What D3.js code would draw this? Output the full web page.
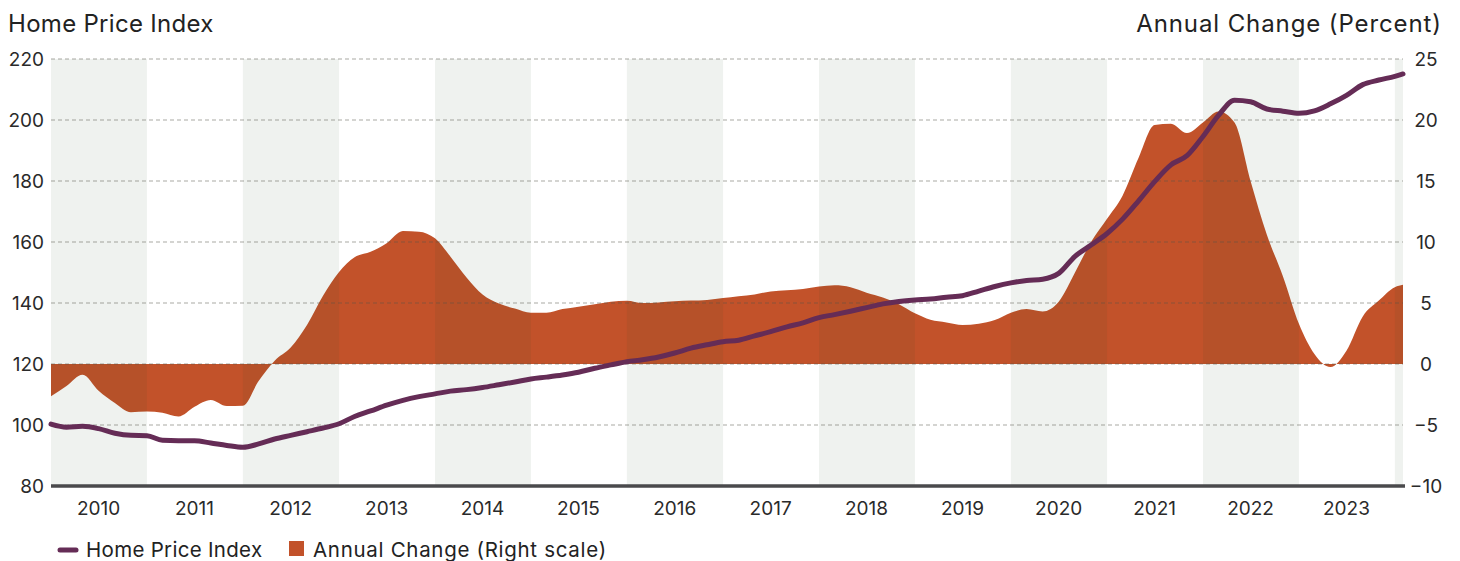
<!DOCTYPE html>
<html>
<head>
<meta charset="utf-8">
<script src="https://cdn.jsdelivr.net/npm/d3@7"></script>
<style>
  body { margin: 0; background: #fff; }
  svg text { font-family: Inter, "Noto Sans", sans-serif; fill: #222; }
</style>
</head>
<body>
<svg id="chart" width="1460" height="561"></svg>
<script>
// every other month, Jan 2010 .. Jan 2024, plus Feb 2024
const dates = [
  '2010-01', '2010-03', '2010-05', '2010-07', '2010-09', '2010-11',
  '2011-01', '2011-03', '2011-05', '2011-07', '2011-09', '2011-11',
  '2012-01', '2012-03', '2012-05', '2012-07', '2012-09', '2012-11',
  '2013-01', '2013-03', '2013-05', '2013-07', '2013-09', '2013-11',
  '2014-01', '2014-03', '2014-05', '2014-07', '2014-09', '2014-11',
  '2015-01', '2015-03', '2015-05', '2015-07', '2015-09', '2015-11',
  '2016-01', '2016-03', '2016-05', '2016-07', '2016-09', '2016-11',
  '2017-01', '2017-03', '2017-05', '2017-07', '2017-09', '2017-11',
  '2018-01', '2018-03', '2018-05', '2018-07', '2018-09', '2018-11',
  '2019-01', '2019-03', '2019-05', '2019-07', '2019-09', '2019-11',
  '2020-01', '2020-03', '2020-05', '2020-07', '2020-09', '2020-11',
  '2021-01', '2021-03', '2021-05', '2021-07', '2021-09', '2021-11',
  '2022-01', '2022-03', '2022-05', '2022-07', '2022-09', '2022-11',
  '2023-01', '2023-03', '2023-05', '2023-07', '2023-09', '2023-11',
  '2024-01', '2024-02'
];

const homePriceIndex = [
  100.3, 99.3, 99.55, 98.8, 97.3, 96.6,
  96.5, 95.0, 94.85, 94.85, 94.1, 93.3,
  92.7, 93.8, 95.4, 96.6, 97.8, 99.0,
  100.4, 102.8, 104.6, 106.5, 108.1, 109.3,
  110.2, 111.1, 111.6, 112.3, 113.2, 114.1,
  115.1, 115.7, 116.4, 117.3, 118.6, 119.7,
  120.75, 121.4, 122.3, 123.6, 125.2, 126.3,
  127.3, 127.8, 129.2, 130.6, 132.2, 133.5,
  135.2, 136.2, 137.3, 138.5, 139.7, 140.5,
  141.0, 141.3, 141.9, 142.4, 143.9, 145.4,
  146.6, 147.4, 147.8, 149.7, 155.3, 159.0,
  162.8, 167.5, 173.5, 179.8, 185.3, 188.3,
  194.6, 201.5, 206.5, 206.0, 203.6, 202.9,
  202.2, 203.0, 205.3, 208.1, 211.6, 213.1,
  214.3, 215.1
];

const annualChange = [
  -2.65, -1.8, -0.88, -2.2, -3.2, -3.95,
  -3.9, -4.0, -4.3, -3.5, -2.95, -3.45,
  -3.42, -1.4, 0.27, 1.35, 3.2, 5.6,
  7.55, 8.75, 9.2, 9.9, 10.9, 10.85,
  10.3, 8.8, 7.1, 5.7, 4.95, 4.55,
  4.2, 4.2, 4.5, 4.7, 4.9, 5.1,
  5.19, 5.0, 5.05, 5.15, 5.2, 5.25,
  5.4, 5.55, 5.7, 5.95, 6.05, 6.15,
  6.35, 6.45, 6.3, 5.85, 5.45, 4.9,
  4.15, 3.62, 3.4, 3.2, 3.3, 3.6,
  4.2, 4.5, 4.3, 5.1, 7.5, 10.0,
  11.9, 13.8, 16.9, 19.6, 19.7, 18.93,
  19.8, 20.7, 19.8, 15.0, 10.6, 7.2,
  3.3, 0.82, -0.25, 1.09, 3.9, 5.2,
  6.3, 6.5
];

const leftTicks = [80, 100, 120, 140, 160, 180, 200, 220];
const rightTicks = [-10, -5, 0, 5, 10, 15, 20, 25];
const years = d3.range(2010, 2025);
const labelYears = d3.range(2010, 2024);

const parseMonth = d3.timeParse('%Y-%m');
const rows = dates.map((d, i) => ({
  date: parseMonth(d),
  hpi: homePriceIndex[i],
  pct: annualChange[i]
}));

const svg = d3.select('#chart');
const plotLeft = 51, plotRight = 1403, plotTop = 59, plotBottom = 486;

const x = d3.scaleTime()
  .domain(d3.extent(rows, d => d.date))
  .range([plotLeft, plotRight]);
const yLeft = d3.scaleLinear().domain([80, 220]).range([plotBottom, plotTop]);
const yRight = d3.scaleLinear().domain([-10, 25]).range([plotBottom, plotTop]);

// annual change area
const area = d3.area()
  .x(d => x(d.date))
  .y0(yRight(0))
  .y1(d => yRight(d.pct))
  .curve(d3.curveMonotoneX);

svg.append('path')
  .datum(rows)
  .attr('d', area)
  .attr('fill', '#c2522a');

// alternating year bands, drawn over the area as a light tint
const xEnd = x.domain()[1];
svg.append('g').selectAll('rect')
  .data(years.filter(yr => yr % 2 === 0))
  .enter().append('rect')
  .attr('x', yr => x(new Date(yr, 0, 1)))
  .attr('width', yr => x(d3.min([new Date(yr + 1, 0, 1), xEnd])) - x(new Date(yr, 0, 1)))
  .attr('y', plotTop)
  .attr('height', plotBottom - plotTop)
  .attr('fill', '#2a4a2a')
  .attr('fill-opacity', 0.075);

// gridlines
svg.append('g').selectAll('line')
  .data(leftTicks.filter(t => t !== 80))
  .enter().append('line')
  .attr('x1', plotLeft)
  .attr('x2', plotRight)
  .attr('y1', d => yLeft(d))
  .attr('y2', d => yLeft(d))
  .attr('stroke', '#55554a')
  .attr('stroke-opacity', 0.5)
  .attr('stroke-width', 1.2)
  .attr('stroke-dasharray', '4,3');

// bottom axis line
svg.append('line')
  .attr('x1', plotLeft)
  .attr('x2', plotRight + 2)
  .attr('y1', plotBottom)
  .attr('y2', plotBottom)
  .attr('stroke', '#4a4a4c')
  .attr('stroke-width', 3.5);

// home price index line
const line = d3.line()
  .x(d => x(d.date))
  .y(d => yLeft(d.hpi))
  .curve(d3.curveMonotoneX);

svg.append('path')
  .datum(rows)
  .attr('d', line)
  .attr('fill', 'none')
  .attr('stroke', '#652c56')
  .attr('stroke-width', 5)
  .attr('stroke-linecap', 'round')
  .attr('stroke-linejoin', 'round');

// axis labels
svg.append('g').selectAll('text')
  .data(leftTicks)
  .enter().append('text')
  .attr('x', 44)
  .attr('y', d => yLeft(d) + 7)
  .attr('text-anchor', 'end')
  .style('font-size', '19px')
  .style('fill', '#2a2a2a')
  .text(d => d);

svg.append('g').selectAll('text')
  .data(rightTicks)
  .enter().append('text')
  .attr('x', 1426)
  .attr('y', d => yRight(d) + 7)
  .attr('text-anchor', 'middle')
  .style('font-size', '19px')
  .style('fill', '#2a2a2a')
  .text(d => d < 0 ? '\u2212' + Math.abs(d) : d);

svg.append('g').selectAll('text')
  .data(labelYears)
  .enter().append('text')
  .attr('x', yr => x(new Date(yr, 6, 1)))
  .attr('y', 515)
  .attr('text-anchor', 'middle')
  .style('font-size', '19px')
  .style('fill', '#2a2a2a')
  .text(yr => yr);

// titles
svg.append('text')
  .attr('x', 8)
  .attr('y', 32)
  .style('font-size', '24px')
  .style('letter-spacing', '0.3px')
  .text('Home Price Index');

svg.append('text')
  .attr('x', 1442)
  .attr('y', 32)
  .attr('text-anchor', 'end')
  .style('font-size', '24px')
  .style('letter-spacing', '0.9px')
  .text('Annual Change (Percent)');

// legend
const legend = svg.append('g');
legend.append('line')
  .attr('x1', 60).attr('x2', 76)
  .attr('y1', 550).attr('y2', 550)
  .attr('stroke', '#652c56')
  .attr('stroke-width', 5)
  .attr('stroke-linecap', 'round');
legend.append('text')
  .attr('x', 86).attr('y', 557)
  .style('font-size', '20.5px')
  .style('letter-spacing', '0.3px')
  .text('Home Price Index');
legend.append('rect')
  .attr('x', 289).attr('y', 541)
  .attr('width', 15).attr('height', 15)
  .attr('fill', '#c2522a');
legend.append('text')
  .attr('x', 313).attr('y', 557)
  .style('font-size', '20.5px')
  .style('letter-spacing', '0.7px')
  .text('Annual Change (Right scale)');
</script>
</body>
</html>
